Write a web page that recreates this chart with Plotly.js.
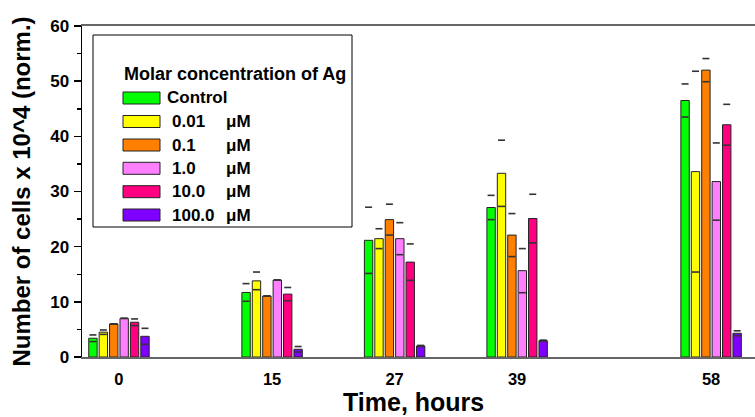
<!DOCTYPE html>
<html>
<head>
<meta charset="utf-8">
<script src="https://cdn.plot.ly/plotly-3.0.1.min.js"></script>
<style>html,body{margin:0;padding:0;background:#fff;}#chart{width:755px;height:417px;}</style>
</head>
<body>
<div id="chart"></div>
<script>
// ---- data ----
const hours = [0, 15, 27, 39, 58];
const hourLabels = ['0', '15', '27', '39', '58'];
const seriesNames = ['Control', '0.01', '0.1', '1.0', '10.0', '100.0'];
const seriesColors = ['#00ff00', '#ffff00', '#ff8000', '#ff80ff', '#ff0080', '#8000ff'];
const control = [3.4, 11.7, 21.15, 27.1, 46.5];
const ag001 = [4.5, 13.8, 21.45, 33.3, 33.6];
const ag01 = [6.0, 11.05, 24.9, 22.1, 52.0];
const ag1 = [7.0, 13.95, 21.45, 15.65, 31.8];
const ag10 = [6.3, 11.4, 17.2, 25.1, 42.1];
const ag100 = [3.75, 1.4, 2.0, 2.96, 4.3];
const errControl = [0.6, 1.6, 6.0, 2.2, 3.0];
const errAg001 = [0.4, 1.6, 1.8, 6.0, 18.2];
const errAg01 = [0, 0, 2.8, 3.9, 2.1];
const errAg1 = [0, 0, 2.9, 4.0, 7.0];
const errAg10 = [0.6, 1.2, 3.3, 4.4, 3.7];
const errAg100 = [1.45, 0.5, 0.1, 0.1, 0.45];
const unitLabel = 'μM';
const legendTitle = 'Molar concentration of Ag';
const xTitle = 'Time, hours';
const yTitle = 'Number of cells x 10^4 (norm.)';

const values = [control, ag001, ag01, ag1, ag10, ag100];
const errors = [errControl, errAg001, errAg01, errAg1, errAg10, errAg100];

// ---- style / layout constants ----
const PITCH = 1.02;     // slot width per bar (x units)
const BARW = 0.82;      // bar width (x units)
const L = 82, T = 26, W = 755, H = 417, B = 60;
const plotW = W - L, plotH = H - T - B;
const px = x => (x - L) / plotW;
const py = y => (H - B - y) / plotH;

const traces = [];
const n = seriesNames.length;
values.forEach((vals, i) => {
  const off = (i - (n - 1) / 2) * PITCH;
  traces.push({
    type: 'bar', x: hours, y: vals, name: seriesNames[i],
    width: BARW, offset: off - BARW / 2,
    marker: {color: seriesColors[i], line: {color: '#222', width: 1}},
    showlegend: false, hoverinfo: 'x+y'
  });
});
values.forEach((vals, i) => {
  const off = (i - (n - 1) / 2) * PITCH;
  const xs = [], ys = [];
  vals.forEach((v, k) => {
    xs.push(hours[k] + off, hours[k] + off);
    ys.push(v + errors[i][k], v - errors[i][k]);
  });
  traces.push({
    type: 'scatter', mode: 'markers', x: xs, y: ys, showlegend: false, hoverinfo: 'skip',
    marker: {symbol: 'line-ew', size: 5, line: {color: '#333', width: 1.6}}
  });
});

// manual legend
const shapes = [{
  type: 'rect', xref: 'paper', yref: 'paper',
  x0: px(93), x1: px(352), y0: py(227), y1: py(35),
  line: {color: '#000', width: 1}, fillcolor: 'rgba(255,255,255,0)'
}];
const font = {family: 'Liberation Sans, Arial, sans-serif', color: '#000'};
const annotations = [{
  xref: 'paper', yref: 'paper', x: px(122), y: py(74), xanchor: 'left', yanchor: 'middle',
  text: '<b>' + legendTitle + '</b>', showarrow: false, font: Object.assign({size: 18}, font)
}, {
  xref: 'paper', yref: 'paper', x: px(413), y: py(417), xanchor: 'center', yanchor: 'bottom',
  text: '<b>' + xTitle + '</b>', showarrow: false, font: Object.assign({size: 25}, font),
  borderpad: 0
}];
const rowY = [98, 121.5, 145, 168.3, 191.7, 215];
seriesNames.forEach((nm, i) => {
  const yc = rowY[i];
  shapes.push({
    type: 'rect', xref: 'paper', yref: 'paper',
    x0: px(123), x1: px(160), y0: py(yc + 6), y1: py(yc - 6),
    fillcolor: seriesColors[i], line: {color: '#222', width: 1}
  });
  if (i === 0) {
    annotations.push({xref: 'paper', yref: 'paper', x: px(165), y: py(yc), xanchor: 'left', yanchor: 'middle',
      text: '<b>' + nm + '</b>', showarrow: false, font: Object.assign({size: 17}, font)});
  } else {
    annotations.push({xref: 'paper', yref: 'paper', x: px(170), y: py(yc), xanchor: 'left', yanchor: 'middle',
      text: '<b>' + nm + '</b>', showarrow: false, font: Object.assign({size: 17}, font)});
    annotations.push({xref: 'paper', yref: 'paper', x: px(224), y: py(yc), xanchor: 'left', yanchor: 'middle',
      text: '<b>' + unitLabel + '</b>', showarrow: false, font: Object.assign({size: 17}, font)});
  }
});

const layout = {
  width: W, height: H,
  margin: {l: L, r: 0, t: T, b: B, pad: 0},
  paper_bgcolor: '#fff', plot_bgcolor: '#fff',
  barmode: 'overlay',
  showlegend: false,
  font: font,
  xaxis: {
    range: [-3.62, 62.3], tickmode: 'array', tickvals: hours, ticktext: hourLabels,
    ticks: '', showgrid: false, zeroline: false,
    showline: true, linecolor: '#666', linewidth: 2, mirror: true,
    tickfont: Object.assign({size: 16.5, weight: 'bold'}, font),
    ticklabelstandoff: 6
  },
  yaxis: {
    range: [0, 60], dtick: 10, tick0: 0,
    ticks: 'outside', ticklen: 7, tickwidth: 1.5, tickcolor: '#000',
    minor: {dtick: 5, ticks: 'outside', ticklen: 4, tickwidth: 1.5, tickcolor: '#000'},
    showgrid: false, zeroline: false,
    showline: true, linecolor: '#000', linewidth: 1.5,
    tickfont: Object.assign({size: 17, weight: 'bold'}, font),
    ticklabelstandoff: 1,
    title: {text: '<b>' + yTitle + '</b>', font: Object.assign({size: 24}, font), standoff: 13}
  },
  shapes: shapes,
  annotations: annotations
};

Plotly.newPlot('chart', traces, layout, {displayModeBar: false, staticPlot: true});
</script>
</body>
</html>
